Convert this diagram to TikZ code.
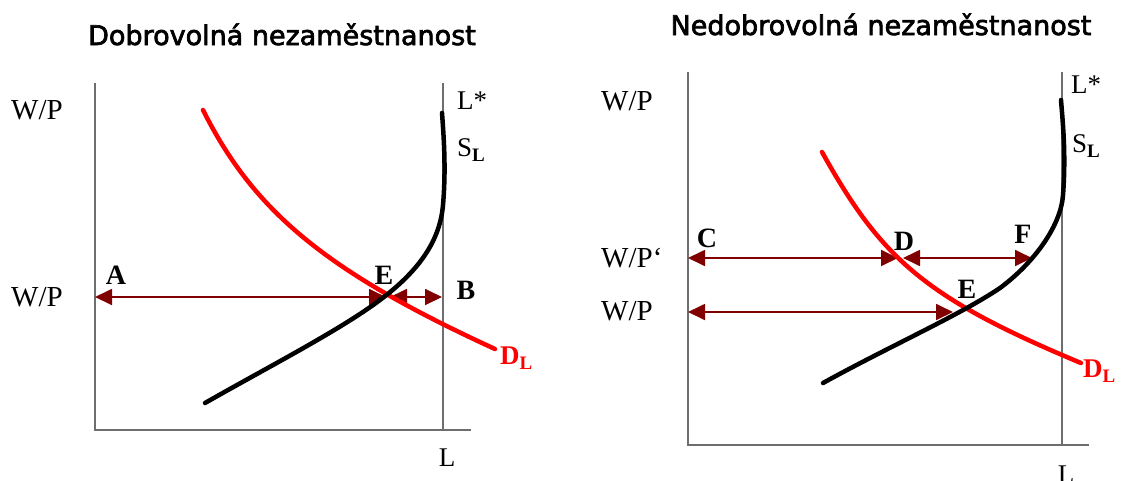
\documentclass[tikz,border=0pt]{standalone}
\usepackage{fontspec}
\setmainfont{Liberation Serif}
\newfontfamily\titlefont[FakeBold=2.5]{DejaVu Sans}
\usetikzlibrary{arrows.meta}
\definecolor{axisgray}{RGB}{110,110,110}
\definecolor{arrowred}{RGB}{128,0,0}
\definecolor{curvered}{RGB}{255,0,0}
\newcommand{\subL}{\raisebox{-5pt}{\fontsize{19}{20}\selectfont\bfseries L}}
\begin{document}
\begin{tikzpicture}[x=1pt,y=-1pt,
  axis/.style={draw=axisgray,line width=2pt},
  dblarrow/.style={draw=arrowred,line width=1.8pt,{Triangle[length=17pt,width=16pt]}-{Triangle[length=17pt,width=16pt]}},
  demand/.style={draw=curvered,line width=4.5pt,line cap=round},
  supply/.style={draw=black,line width=4.5pt,line cap=round},
  ttl/.style={font=\titlefont\fontsize{27}{30}\selectfont,inner sep=0pt,anchor=base},
  wp/.style={font=\fontsize{29}{32}\selectfont,inner sep=0pt,anchor=base west},
  ptlab/.style={font=\fontsize{28}{30}\selectfont\bfseries,inner sep=0pt,anchor=base},
  lab/.style={font=\fontsize{27}{30}\selectfont,inner sep=0pt,anchor=base west},
  dlab/.style={font=\fontsize{27}{30}\selectfont\bfseries,text=curvered,inner sep=0pt,anchor=base west},
]
\useasboundingbox (0,0) rectangle (1121,480);

% ===== Left panel =====
\node[ttl] (t1) at (282,45) {Dobrovolná nezaměstnanost};
\coordinate (o1) at (95,430);
\coordinate (ytop1) at (95,83);
\coordinate (xend1) at (471,430);
\coordinate (ls1top) at (443,83);
\coordinate (ls1bot) at (443,430);
\draw[axis] (ytop1) -- (o1) -- (xend1);
\draw[axis] (ls1top) -- (ls1bot);

\node[wp] (wp1a) at (11,119) {W/P};
\node[wp] (wp1b) at (11,306) {W/P};
\node[lab] (lstar1) at (457,109) {L*};
\node[lab] (sl1) at (457,156) {S\subL};
\node[dlab] (dl1) at (500,364) {D\subL};
\node[lab,anchor=base] (lx1) at (447,466) {L};
\node[ptlab] (A) at (116,284) {A};
\node[ptlab] (E1) at (384,284) {E};
\node[ptlab] (B) at (466,299) {B};

\coordinate (a1l) at (95,297);
\coordinate (a1r) at (386,297);
\coordinate (a2l) at (390,297);
\coordinate (a2r) at (442,297);
\draw[dblarrow] (a1l) -- (a1r);
\draw[dblarrow] (a2l) -- (a2r);

\draw[demand] (203,110) .. controls (254,212) and (327,272) .. (495,349);
\draw[supply] (205,403) .. controls (270,366) and (340,330) .. (380,300)
  .. controls (420,270) and (440,240) .. (443,205)
  .. controls (446,170) and (444,140) .. (442,113);

% ===== Right panel =====
\node[ttl] (t2) at (881,35) {Nedobrovolná nezaměstnanost};
\coordinate (o2) at (688,445);
\coordinate (ytop2) at (688,72);
\coordinate (xend2) at (1089,445);
\coordinate (ls2top) at (1062,72);
\coordinate (ls2bot) at (1062,445);
\draw[axis] (ytop2) -- (o2) -- (xend2);
\draw[axis] (ls2top) -- (ls2bot);

\node[wp] (wp2a) at (601,110) {W/P};
\node[wp] (wp2b) at (601,267) {W/P‘};
\node[wp] (wp2c) at (601,320) {W/P};
\node[lab] (lstar2) at (1071,93) {L*};
\node[lab] (sl2) at (1072,152) {S\subL};
\node[dlab] (dl2) at (1083,377) {D\subL};
\node[lab,anchor=base] (lx2) at (1066,483) {L};
\node[ptlab] (C) at (707,247) {C};
\node[ptlab] (D) at (904,250) {D};
\node[ptlab] (F) at (1023,243) {F};
\node[ptlab] (E2) at (967,298) {E};

\coordinate (b1l) at (688,258);
\coordinate (b1r) at (898,258);
\coordinate (b2l) at (903,258);
\coordinate (b2r) at (1032,258);
\coordinate (c1l) at (688,312);
\coordinate (c1r) at (953,312);
\draw[dblarrow] (b1l) -- (b1r);
\draw[dblarrow] (b2l) -- (b2r);
\draw[dblarrow] (c1l) -- (c1r);

\draw[demand] (822,152) .. controls (881.5,259) and (925,298) .. (1081,363);
\draw[supply] (823,383) .. controls (890,346) and (960,315) .. (1000,288)
  .. controls (1035,262) and (1061,225) .. (1063,195)
  .. controls (1066,155) and (1063,125) .. (1061,100);
\end{tikzpicture}
\end{document}
